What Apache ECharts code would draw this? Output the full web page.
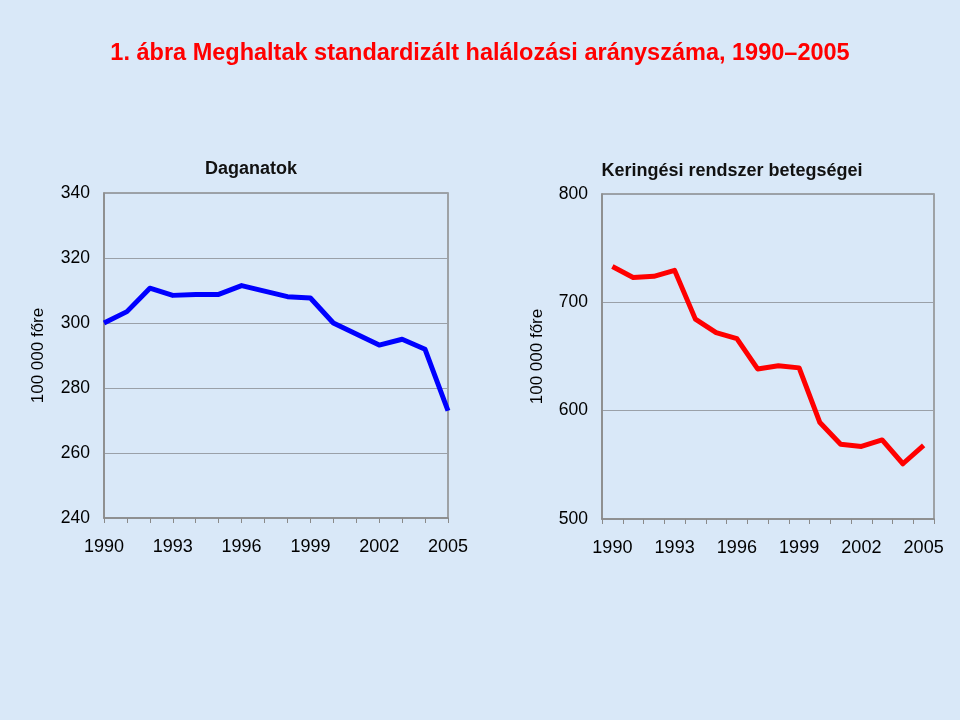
<!DOCTYPE html>
<html><head><meta charset="utf-8">
<script src="https://cdn.jsdelivr.net/npm/echarts@6/dist/echarts.min.js"></script>
<style>html,body{margin:0;padding:0;background:#d9e8f8}#c{width:960px;height:720px}</style>
</head><body><div id="c"></div>
<script>
const years = ['1990','1991','1992','1993','1994','1995','1996','1997','1998','1999','2000','2001','2002','2003','2004','2005'];
const daganatok = [300, 303.5, 310.7, 308.5, 308.8, 308.8, 311.5, 309.8, 308.1, 307.7, 300, 296.6, 293.2, 295.0, 291.9, 273.0];
const keringesi = [733, 723, 724, 729.5, 684.5, 672, 666.5, 638.5, 641.5, 639.5, 589, 569, 567, 573, 551, 568];
const leftTicks = [240, 340, 20];
const rightTicks = [500, 800, 100];

const chart = echarts.init(document.getElementById('c'));
const font = 'Liberation Sans, Arial, sans-serif';
const gray = '#8a8a8a';
function xAxis(gi, bgap) {
  return {
    type: 'category', gridIndex: gi, data: years, boundaryGap: bgap,
    axisLine: { lineStyle: { color: gray, width: 1.5 } },
    axisTick: { show: true, interval: 0, length: 5, lineStyle: { color: gray } },
    axisLabel: { interval: 2, color: '#000', fontSize: 18, fontFamily: font, margin: 20 }
  };
}
function yAxis(gi, t, gap) {
  return {
    type: 'value', gridIndex: gi, min: t[0], max: t[1], interval: t[2],
    name: '100 000 főre', nameLocation: 'middle', nameRotate: 90, nameGap: gap,
    nameTextStyle: { color: '#000', fontSize: 17, fontFamily: font },
    axisLine: { show: true, lineStyle: { color: gray, width: 1.5 } },
    axisTick: { show: false },
    axisLabel: { color: '#000', fontSize: 17.5, fontFamily: font, margin: 14 },
    splitLine: { lineStyle: { color: '#9aa0a8', width: 1 } }
  };
}
chart.setOption({
  backgroundColor: '#d9e8f8',
  animation: false,
  title: [
    { text: '1. ábra Meghaltak standardizált halálozási arányszáma, 1990–2005', left: 'center', top: 37,
      textStyle: { color: '#ff0000', fontSize: 23.5, fontWeight: 'bold', fontFamily: font } },
    { text: 'Daganatok', left: 246, top: 155, textAlign: 'center',
      textStyle: { color: '#111', fontSize: 18, fontWeight: 'bold', fontFamily: font } },
    { text: 'Keringési rendszer betegségei', left: 727, top: 157, textAlign: 'center',
      textStyle: { color: '#111', fontSize: 18, fontWeight: 'bold', fontFamily: font } }
  ],
  grid: [
    { left: 104, top: 193, width: 344, height: 325, show: true, borderColor: gray, borderWidth: 1.5, backgroundColor: 'transparent' },
    { left: 602, top: 194, width: 332, height: 325, show: true, borderColor: gray, borderWidth: 1.5, backgroundColor: 'transparent' }
  ],
  xAxis: [xAxis(0, false), xAxis(1, true)],
  yAxis: [yAxis(0, leftTicks, 57), yAxis(1, rightTicks, 56)],
  series: [
    { type: 'line', xAxisIndex: 0, yAxisIndex: 0, data: daganatok, symbol: 'none',
      lineStyle: { color: '#0000ff', width: 5, join: 'round' } },
    { type: 'line', xAxisIndex: 1, yAxisIndex: 1, data: keringesi, symbol: 'none',
      lineStyle: { color: '#ff0000', width: 5, join: 'round' } }
  ]
});
</script></body></html>
